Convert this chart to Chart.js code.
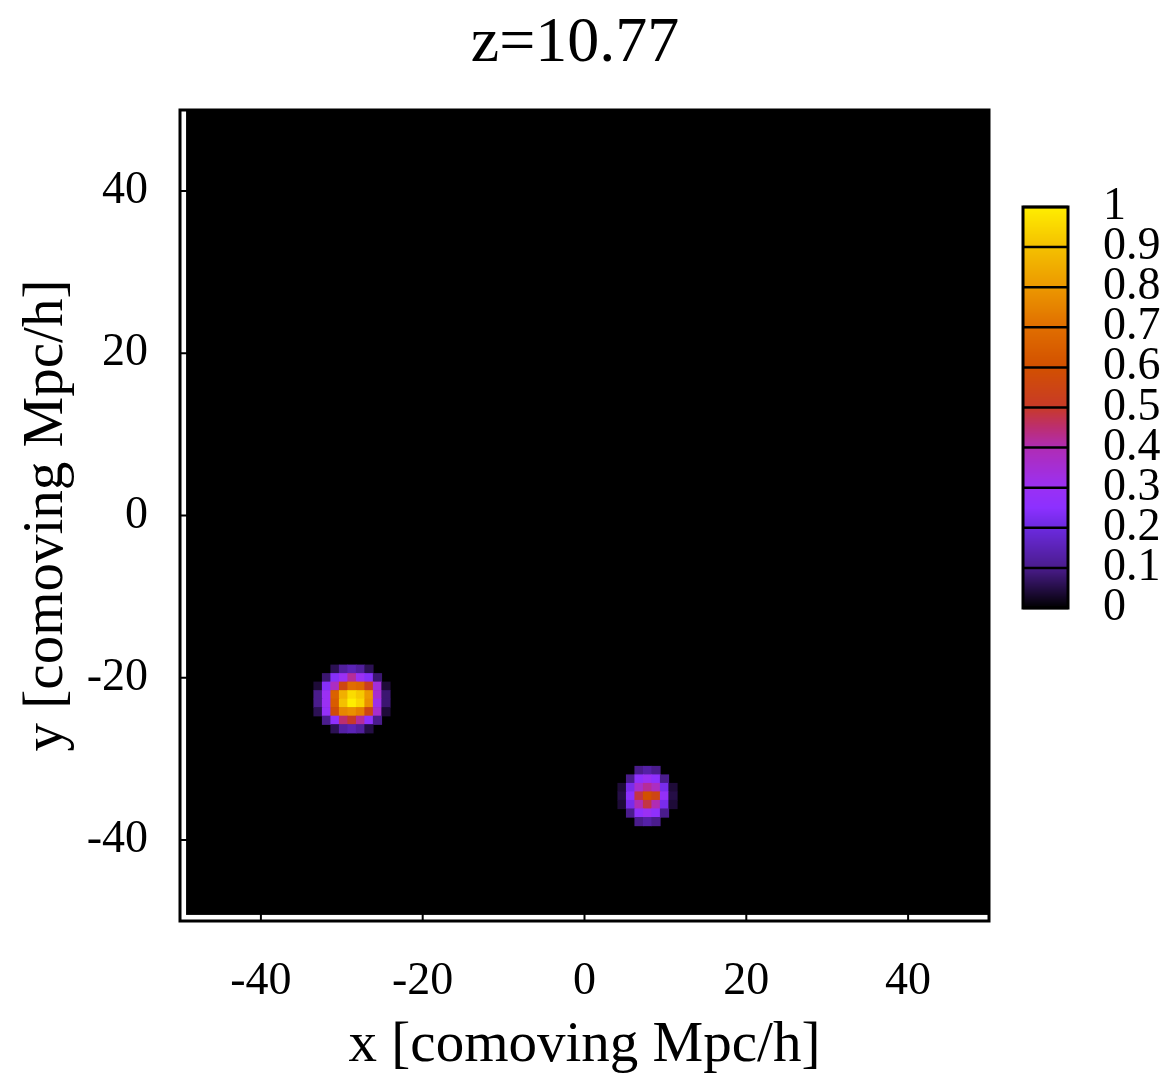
<!DOCTYPE html>
<html>
<head>
<meta charset="utf-8">
<title>z=10.77</title>
<script src="https://cdn.jsdelivr.net/npm/chart.js@4.4.1/dist/chart.umd.min.js"></script>
<style>
    html, body { margin: 0; padding: 0; background: #ffffff; }
    canvas { display: block; }
</style>
</head>
<body>
<canvas id="mapaChart" width="1176" height="1086"></canvas>
<script>
// Datos del mapa
const titulo = 'z=10.77';
const tituloX = 'x [comoving Mpc/h]';
const tituloY = 'y [comoving Mpc/h]';
const ticksX = [-40, -20, 0, 20, 40];
const ticksY = [-40, -20, 0, 20, 40];
const ticksBarra = [0, 0.1, 0.2, 0.3, 0.4, 0.5, 0.6, 0.7, 0.8, 0.9, 1];
const etiquetasBarra = ['0', '0.1', '0.2', '0.3', '0.4', '0.5', '0.6', '0.7', '0.8', '0.9', '1'];

// Tamaño de celda del mapa (Mpc/h) y extensión del fondo
const tamCelda = 1.05;
const fondoMin = -49.25;
const fondoMax = 50;

// Primera mancha (centro aprox. -28.7, -22.6)
const mancha1X0 = -32.94;
const mancha1Y0 = -18.95;
const mancha1 = [
    [0, 0, 0.06, 0.12, 0.15, 0.12, 0.06, 0, 0],
    [0, 0.08, 0.24, 0.3, 0.42, 0.3, 0.24, 0.08, 0],
    [0.04, 0.24, 0.38, 0.56, 0.7, 0.68, 0.52, 0.34, 0.04],
    [0.1, 0.3, 0.66, 0.86, 0.96, 0.92, 0.8, 0.36, 0.08],
    [0.1, 0.3, 0.64, 0.9, 1.0, 0.95, 0.78, 0.32, 0.08],
    [0.06, 0.28, 0.58, 0.76, 0.78, 0.74, 0.55, 0.36, 0.04],
    [0, 0.1, 0.26, 0.45, 0.5, 0.42, 0.26, 0.1, 0],
    [0, 0, 0.06, 0.13, 0.15, 0.12, 0.05, 0, 0]
];

// Segunda mancha (centro aprox. 7.8, -34.6)
const mancha2X0 = 4.64;
const mancha2Y0 = -31.44;
const mancha2 = [
    [0, 0, 0.1, 0.13, 0.1, 0, 0],
    [0, 0.1, 0.26, 0.3, 0.26, 0.1, 0],
    [0.04, 0.22, 0.36, 0.42, 0.38, 0.22, 0.04],
    [0.05, 0.25, 0.48, 0.6, 0.55, 0.28, 0.05],
    [0.04, 0.22, 0.4, 0.48, 0.4, 0.22, 0.04],
    [0, 0.1, 0.26, 0.3, 0.26, 0.1, 0],
    [0, 0, 0.1, 0.13, 0.1, 0, 0]
];

// Paleta de colores (valor -> color)
const paletaValores = [0, 0.1, 0.2, 0.25, 0.3, 0.4, 0.45, 0.5, 0.6, 0.7, 0.8, 0.9, 1];
const paletaColores = ['#000000', '#4a1c8c', '#6c2ae0', '#8c30ff', '#9a30f4', '#b02cb4',
                       '#bc2e70', '#c83a28', '#d25000', '#e06e00', '#ec9800', '#f4c000', '#ffee00'];

const fuente = "'Liberation Serif', 'Times New Roman', serif";

// Convertir color hex a [r, g, b]
function hexARgb(hex) {
    return [1, 3, 5].map(i => parseInt(hex.substr(i, 2), 16));
}

// Color para un valor entre 0 y 1
function colorDe(v) {
    v = Math.max(0, Math.min(1, v));
    for (let i = 1; i < paletaValores.length; i++) {
        if (v <= paletaValores[i]) {
            const t = (v - paletaValores[i - 1]) / (paletaValores[i] - paletaValores[i - 1]);
            const a = hexARgb(paletaColores[i - 1]);
            const b = hexARgb(paletaColores[i]);
            const c = a.map((x, k) => Math.round(x + (b[k] - x) * t));
            return 'rgb(' + c.join(',') + ')';
        }
    }
    return paletaColores[paletaColores.length - 1];
}

// Pasar las matrices a puntos {x, y, v}
function celdasDe(matriz, x0, y0) {
    const puntos = [];
    matriz.forEach((fila, r) => {
        fila.forEach((v, c) => {
            if (v > 0) {
                puntos.push({ x: x0 + c * tamCelda, y: y0 - r * tamCelda, v: v });
            }
        });
    });
    return puntos;
}

const celdas = celdasDe(mancha1, mancha1X0, mancha1Y0).concat(celdasDe(mancha2, mancha2X0, mancha2Y0));

// Radio del punto 'rect' para que cubra una celda
function radioCelda(chart) {
    const esc = chart.scales.x;
    if (!esc) return 4;
    const lado = Math.abs(esc.getPixelForValue(tamCelda) - esc.getPixelForValue(0)) + 0.7;
    return lado / Math.SQRT2;
}

// Fondo negro del mapa
const fondoPlugin = {
    id: 'fondo',
    beforeDatasetsDraw(chart) {
        const { ctx, scales } = chart;
        const x1 = scales.x.getPixelForValue(fondoMin);
        const x2 = scales.x.getPixelForValue(fondoMax);
        const y1 = scales.y.getPixelForValue(fondoMax);
        const y2 = scales.y.getPixelForValue(fondoMin);
        ctx.save();
        ctx.fillStyle = '#000000';
        ctx.fillRect(x1, y1, x2 - x1, y2 - y1);
        ctx.restore();
    }
};

// Marco, marcas hacia dentro, barra de color y título
const marcoPlugin = {
    id: 'marco',
    afterDatasetsDraw(chart) {
        const { ctx, chartArea, scales } = chart;
        const largo = 14;
        ctx.save();
        ctx.strokeStyle = '#000000';
        ctx.lineWidth = 2;
        ticksX.forEach(v => {
            const px = scales.x.getPixelForValue(v);
            ctx.beginPath();
            ctx.moveTo(px, chartArea.bottom);
            ctx.lineTo(px, chartArea.bottom - largo);
            ctx.moveTo(px, chartArea.top);
            ctx.lineTo(px, chartArea.top + largo);
            ctx.stroke();
        });
        ticksY.forEach(v => {
            const py = scales.y.getPixelForValue(v);
            ctx.beginPath();
            ctx.moveTo(chartArea.left, py);
            ctx.lineTo(chartArea.left + largo, py);
            ctx.moveTo(chartArea.right, py);
            ctx.lineTo(chartArea.right - largo, py);
            ctx.stroke();
        });
        ctx.lineWidth = 3;
        ctx.strokeRect(chartArea.left, chartArea.top, chartArea.right - chartArea.left, chartArea.bottom - chartArea.top);
        ctx.restore();
    },
    afterDraw(chart) {
        const ctx = chart.ctx;
        // Barra de color
        const bx = 1023, bw = 45, bTop = 207, bBot = 608;
        const alto = bBot - bTop;
        ctx.save();
        for (let py = bTop; py < bBot; py++) {
            ctx.fillStyle = colorDe((bBot - py - 0.5) / alto);
            ctx.fillRect(bx, py, bw, 1);
        }
        ctx.strokeStyle = '#000000';
        ctx.lineWidth = 2.5;
        ticksBarra.forEach(v => {
            const py = bBot - v * alto;
            ctx.beginPath();
            ctx.moveTo(bx, py);
            ctx.lineTo(bx + bw, py);
            ctx.stroke();
        });
        ctx.lineWidth = 3;
        ctx.strokeRect(bx, bTop, bw, alto);

        // Etiquetas de la barra
        ctx.fillStyle = '#000000';
        ctx.font = '46px ' + fuente;
        ctx.textAlign = 'left';
        ctx.textBaseline = 'middle';
        ticksBarra.forEach((v, i) => {
            ctx.fillText(etiquetasBarra[i], 1103, bBot - v * alto);
        });

        // Título
        ctx.font = '64px ' + fuente;
        ctx.textAlign = 'center';
        ctx.fillText(titulo, 575, 44);
        ctx.restore();
    }
};

// Crear el gráfico
const ctxMapa = document.getElementById('mapaChart').getContext('2d');
new Chart(ctxMapa, {
    type: 'scatter',
    data: {
        datasets: [{
            data: celdas,
            pointStyle: 'rect',
            pointRadius: c => radioCelda(c.chart),
            pointHoverRadius: c => radioCelda(c.chart),
            backgroundColor: c => colorDe(c.raw ? c.raw.v : 0),
            borderWidth: 0
        }]
    },
    options: {
        responsive: false,
        animation: false,
        devicePixelRatio: 1,
        events: [],
        layout: {
            padding: { top: 110, right: 187, left: 0, bottom: 0 }
        },
        plugins: {
            legend: { display: false },
            tooltip: { enabled: false },
            title: { display: false }
        },
        scales: {
            x: {
                type: 'linear',
                min: -50,
                max: 50,
                afterBuildTicks: esc => { esc.ticks = ticksX.map(v => ({ value: v })); },
                afterFit: esc => { esc.height = 165; },
                grid: { display: false, drawTicks: false },
                border: { display: false },
                ticks: {
                    autoSkip: false,
                    maxRotation: 0,
                    padding: 33,
                    color: '#000000',
                    font: { family: fuente, size: 46 },
                    callback: v => String(v)
                },
                title: {
                    display: true,
                    text: tituloX,
                    color: '#000000',
                    font: { family: fuente, size: 57 },
                    padding: { top: 0, bottom: 6 }
                }
            },
            y: {
                type: 'linear',
                min: -50,
                max: 50,
                afterBuildTicks: esc => { esc.ticks = ticksY.map(v => ({ value: v })); },
                afterFit: esc => { esc.width = 180; },
                grid: { display: false, drawTicks: false },
                border: { display: false },
                ticks: {
                    autoSkip: false,
                    padding: 32,
                    color: '#000000',
                    font: { family: fuente, size: 46 },
                    callback: v => String(v)
                },
                title: {
                    display: true,
                    text: tituloY,
                    color: '#000000',
                    font: { family: fuente, size: 57 },
                    padding: { top: 13, bottom: 0 }
                }
            }
        }
    },
    plugins: [fondoPlugin, marcoPlugin]
});
</script>
</body>
</html>
